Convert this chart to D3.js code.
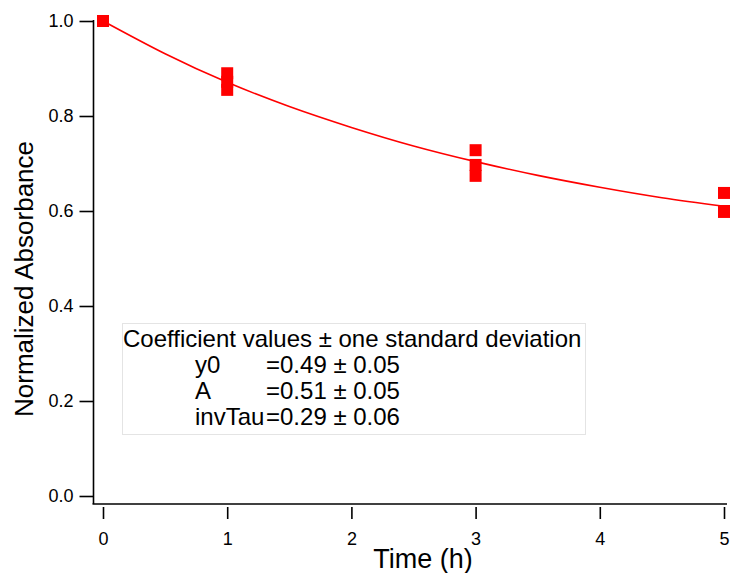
<!DOCTYPE html>
<html>
<head>
<meta charset="utf-8">
<script src="https://cdn.jsdelivr.net/npm/d3@7"></script>
<style>
  body { margin: 0; background: #fff; }
  text { font-family: "Liberation Sans", Arial, sans-serif; fill: #000; }
</style>
</head>
<body>
<svg id="chart" width="732" height="573"></svg>
<script>
// measured points (three replicates per time)
const times = [0, 1, 3, 5];
const rep1 = [1.0, 0.89, 0.728, 0.638];
const rep2 = [1.0, 0.872, 0.697, 0.600];
const rep3 = [1.0, 0.855, 0.674, 0.598];

// fit curve
const fitX = [0, 0.5, 1, 1.5, 2, 2.5, 3, 3.5, 4, 4.5, 5];
const fitY = [1.0, 0.931, 0.871, 0.820, 0.776, 0.737, 0.704, 0.675, 0.650, 0.628, 0.610];

const xTicks = [0, 1, 2, 3, 4, 5];
const yTicks = [0.0, 0.2, 0.4, 0.6, 0.8, 1.0];

const coefHeader = "Coefficient values \u00b1 one standard deviation";
const coefNames = ["y0", "A", "invTau"];
const coefValues = ["=0.49 \u00b1 0.05", "=0.51 \u00b1 0.05", "=0.29 \u00b1 0.06"];

const svg = d3.select("#chart");
const x = d3.scaleLinear().domain([0, 5]).range([103, 724]);
const y = d3.scaleLinear().domain([0, 1]).range([496, 21]);
const axisX = 93.5, axisY = 504;

// axes
const yAxis = d3.axisLeft(y).tickValues(yTicks).tickFormat(d3.format(".1f")).tickSize(14).tickPadding(6);
const gy = svg.append("g").attr("transform", `translate(${axisX},0)`).call(yAxis);
gy.select(".domain").remove();
gy.append("line").attr("x1", 0).attr("x2", 0).attr("y1", y(1) - 1).attr("y2", axisY)
  .attr("stroke", "#000").attr("stroke-width", 1.6);
gy.selectAll(".tick line").attr("stroke-width", 1.6);
gy.selectAll(".tick text").style("font-size", "18px");

const xAxis = d3.axisBottom(x).tickValues(xTicks).tickFormat(d3.format("d")).tickSize(12).tickPadding(13);
const gx = svg.append("g").attr("transform", `translate(0,${axisY + 3})`).call(xAxis);
gx.select(".domain").remove();
gx.selectAll(".tick line").attr("stroke-width", 1.6);
gx.selectAll(".tick text").style("font-size", "18px");
svg.append("line").attr("x1", axisX - 1).attr("x2", 727).attr("y1", axisY).attr("y2", axisY)
  .attr("stroke", "#000").attr("stroke-width", 1.6);

// axis titles
svg.append("text").attr("x", 423).attr("y", 568).attr("text-anchor", "middle")
  .style("font-size", "27px").text("Time (h)");
svg.append("text").attr("transform", "translate(33,279) rotate(-90)").attr("text-anchor", "middle")
  .style("font-size", "26px").text("Normalized Absorbance");

// fit line
const line = d3.line().x((d, i) => x(fitX[i])).y(d => y(d)).curve(d3.curveNatural);
svg.append("path").datum(fitY).attr("d", line)
  .attr("fill", "none").attr("stroke", "#ff0000").attr("stroke-width", 1.6);

// markers
const pts = [];
[rep1, rep2, rep3].forEach(r => r.forEach((v, i) => pts.push([times[i], v])));
svg.append("g").selectAll("rect").data(pts).enter().append("rect")
  .attr("x", d => x(d[0]) - 6).attr("y", d => y(d[1]) - 6)
  .attr("width", 12).attr("height", 12).attr("fill", "#ff0000");

// coefficient box
const box = svg.append("g");
box.append("rect").attr("x", 122.5).attr("y", 323.5).attr("width", 463).attr("height", 111)
  .attr("fill", "#fff").attr("stroke", "#e4e4e4").attr("stroke-width", 1);
box.append("text").attr("x", 123).attr("y", 347).style("font-size", "24px").text(coefHeader);
coefNames.forEach((n, i) => {
  box.append("text").attr("x", 195).attr("y", 373 + i * 26).style("font-size", "24px").text(n);
  box.append("text").attr("x", 266).attr("y", 373 + i * 26).style("font-size", "24px").text(coefValues[i]);
});
</script>
</body>
</html>
